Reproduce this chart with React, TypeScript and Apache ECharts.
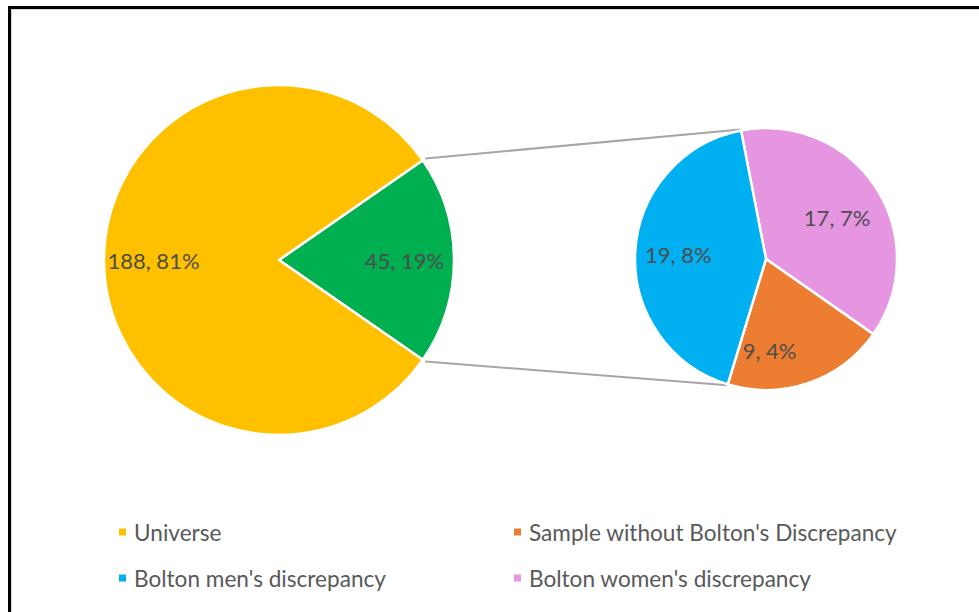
import React, { useEffect, useRef } from "react";
import * as echarts from "echarts";

// ---- Data ----
const mainNames = ["Other", "Universe"];
const mainValues = [45, 188];
const subNames = ["Bolton women's discrepancy", "Sample without Bolton's Discrepancy", "Bolton men's discrepancy"];
const subValues = [17, 9, 19];
const legendNames = ["Universe", "Sample without Bolton's Discrepancy", "Bolton men's discrepancy", "Bolton women's discrepancy"];

const colors: Record<string, string> = {
  Other: "#00B050",
  Universe: "#FFC000",
  "Sample without Bolton's Discrepancy": "#ED7D31",
  "Bolton men's discrepancy": "#00B0F0",
  "Bolton women's discrepancy": "#E695E0",
};

// small label nudges (Excel best-fit placement)
const subLabelNudge = [
  [-5, 8],
  [-26, 6],
  [3, 0],
];

const FONT = "Lato";
const W = 979;
const H = 612;

export default function App() {
  const ref = useRef<HTMLDivElement>(null);
  useEffect(() => {
    if (!ref.current) return;
    const chart = echarts.init(ref.current, null, { renderer: "svg" });
    const total = mainValues.reduce((a, b) => a + b, 0);
    const otherShare = mainValues[0] / total;
    const mainStart = otherShare * 180;
    const subStart = 101;

    const mainC = [279, 260];
    const mainR = 175;
    const subC = [766, 259];
    const subR = 131;

    const fmt = (p: any) => `${p.value}, ${Math.round((p.value / total) * 100)}%`;

    const mainData = mainNames.map((n, i) => ({ name: n, value: mainValues[i], itemStyle: { color: colors[n] } }));
    const subData = subNames.map((n, i) => ({ name: n, value: subValues[i], itemStyle: { color: colors[n] } }));

    const rad = (d: number) => (d * Math.PI) / 180;
    const pt = (c: number[], r: number, a: number) => [c[0] + r * Math.cos(rad(a)), c[1] - r * Math.sin(rad(a))];
    const subSum = subValues.reduce((a, b) => a + b, 0);
    const subEndAngle = subStart - (360 * (subValues[0] + subValues[1])) / subSum;
    const m1 = pt(mainC, mainR + 3, mainStart);
    const m2 = pt(mainC, mainR + 3, -mainStart);
    const s1 = pt(subC, subR + 1, subStart);
    const s2 = pt(subC, subR + 1, subEndAngle);

    const labelStyle = {
      show: true,
      position: "inside",
      formatter: fmt,
      fontFamily: FONT,
      fontSize: 22,
      color: "#4d4d4d",
    };

    const legendPos = [
      [112, 513],
      [507, 513],
      [112, 559],
      [507, 559],
    ];

    chart.setOption({
      animation: false,
      backgroundColor: "#ffffff",
      legend: legendNames.map((n, i) => ({
        data: [{ name: n, itemStyle: { color: colors[n] } }],
        left: legendPos[i][0],
        top: legendPos[i][1],
        icon: "rect",
        itemWidth: 9,
        itemHeight: 9,
        selectedMode: false,
        textStyle: { fontFamily: FONT, fontSize: 22.6, color: "#595959", lineHeight: 28, padding: [0, 0, 0, 2] },
      })),
      series: [
        {
          type: "pie",
          center: mainC,
          radius: mainR,
          startAngle: mainStart,
          clockwise: true,
          silent: true,
          label: { show: false },
          labelLine: { show: false },
          itemStyle: { borderColor: "#fff", borderWidth: 2.5 },
          data: mainData,
        },
        {
          type: "pie",
          center: subC,
          radius: subR,
          startAngle: subStart,
          clockwise: true,
          silent: true,
          label: { show: false },
          labelLine: { show: false },
          itemStyle: { borderColor: "#fff", borderWidth: 2.5 },
          data: subData,
        },
        {
          type: "pie",
          center: mainC,
          radius: [mainR * 0.4, mainR],
          startAngle: mainStart,
          clockwise: true,
          silent: true,
          label: labelStyle,
          labelLine: { show: false },
          itemStyle: { color: "rgba(0,0,0,0)", borderWidth: 0 },
          data: mainNames.map((n, i) => ({ name: n, value: mainValues[i] })),
        },
        {
          type: "pie",
          center: subC,
          radius: [subR * 0.34, subR],
          startAngle: subStart,
          clockwise: true,
          silent: true,
          label: labelStyle,
          labelLine: { show: false },
          labelLayout: (p: any) => ({ dx: subLabelNudge[p.dataIndex][0], dy: subLabelNudge[p.dataIndex][1] }),
          itemStyle: { color: "rgba(0,0,0,0)", borderWidth: 0 },
          data: subNames.map((n, i) => ({ name: n, value: subValues[i] })),
        },
      ],
      graphic: [
        {
          type: "line",
          shape: { x1: m1[0], y1: m1[1], x2: s1[0], y2: s1[1] },
          style: { stroke: "#a6a6a6", lineWidth: 2 },
          silent: true,
        },
        {
          type: "line",
          shape: { x1: m2[0], y1: m2[1], x2: s2[0], y2: s2[1] },
          style: { stroke: "#a6a6a6", lineWidth: 2 },
          silent: true,
        },
      ],
    });
    return () => chart.dispose();
  }, []);

  return (
    <div style={{ position: "absolute", left: 0, top: 0, width: W, height: H, overflow: "hidden", background: "#fff" }}>
      <div ref={ref} style={{ position: "absolute", left: 0, top: 0, width: W, height: H }} />
      <div
        style={{
          position: "absolute",
          left: 8,
          top: 6,
          width: W + 20,
          height: H + 20,
          borderTop: "3px solid #000",
          borderLeft: "3px solid #000",
          pointerEvents: "none",
        }}
      >
        <div style={{ width: "100%", height: "100%", borderTop: "1px solid #d9d9d9", borderLeft: "1px solid #d9d9d9" }} />
      </div>
    </div>
  );
}
